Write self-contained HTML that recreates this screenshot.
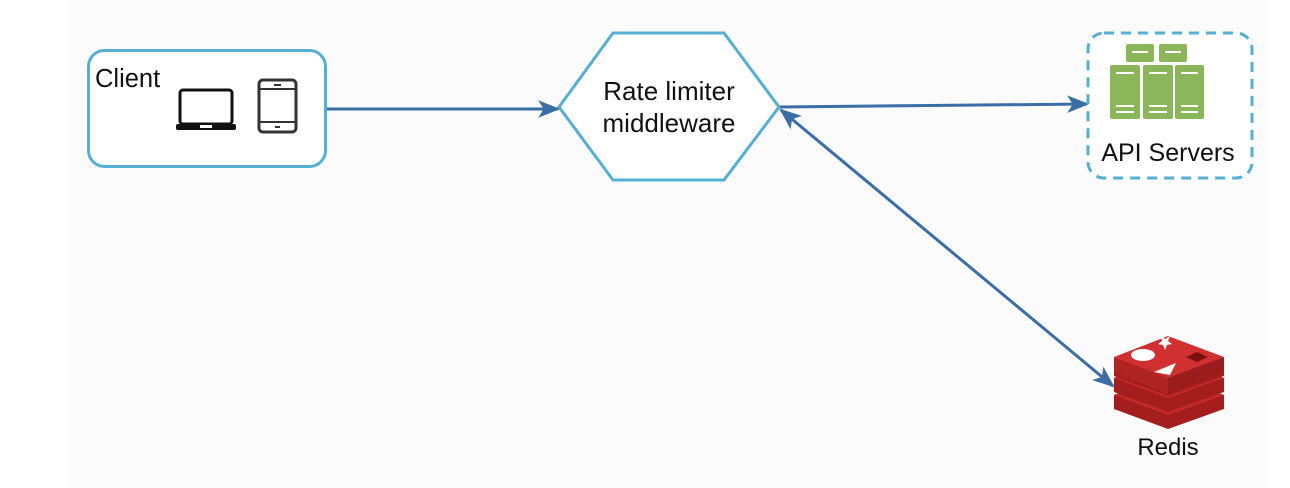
<!DOCTYPE html>
<html><head><style>
html,body{margin:0;padding:0;background:#fff;}
body{width:1290px;height:488px;position:relative;overflow:hidden;font-family:"Liberation Sans",Arial,sans-serif;}
</style></head><body>
<svg width="1290" height="488" viewBox="0 0 1290 488" style="position:absolute;left:0;top:0">
<defs>
<marker id="ah" viewBox="0 0 20 20" refX="18" refY="10" markerWidth="22" markerHeight="22" markerUnits="userSpaceOnUse" orient="auto-start-reverse">
<path d="M0,2 L20,10 L0,18 L5,10 Z" fill="#3a6ea5"/>
</marker>
</defs>
<rect x="68" y="0" width="1199" height="488" fill="#fbfbfb"/>
<!-- client -->
<rect x="88.5" y="50.5" width="237" height="116" rx="16" fill="#fff" stroke="#55aed3" stroke-width="3"/>
<text x="95" y="87" font-size="25.5" fill="#111">Client</text>
<!-- laptop -->
<rect x="180" y="90" width="52" height="34" rx="3" fill="none" stroke="#111" stroke-width="3"/>
<rect x="176" y="124" width="60" height="6" rx="2" fill="#111"/>
<rect x="200" y="125" width="12" height="3" fill="#fff"/>
<!-- phone -->
<rect x="259" y="80" width="37" height="52" rx="4" fill="none" stroke="#333" stroke-width="3"/>
<line x1="260" y1="89" x2="295" y2="89" stroke="#333" stroke-width="2"/>
<line x1="260" y1="122" x2="295" y2="122" stroke="#333" stroke-width="2"/>
<rect x="274" y="84" width="7" height="2" fill="#333"/>
<rect x="275" y="126" width="5" height="2" fill="#333"/>
<!-- hexagon -->
<polygon points="613,33 724,33 779,107 724,180 613,180 559,107" fill="#fff" stroke="#55aed3" stroke-width="3"/>
<text x="669" y="100" font-size="26" text-anchor="middle" fill="#111">Rate limiter</text>
<text x="669" y="132" font-size="26" text-anchor="middle" fill="#111">middleware</text>
<!-- arrows -->
<line x1="327" y1="109" x2="558" y2="109" stroke="#3a6ea5" stroke-width="3" marker-end="url(#ah)"/>
<line x1="780" y1="107" x2="1087" y2="104" stroke="#3a6ea5" stroke-width="3" marker-end="url(#ah)"/>
<line x1="781" y1="110" x2="1113" y2="386" stroke="#3a6ea5" stroke-width="3" marker-end="url(#ah)" marker-start="url(#ah)"/>
<!-- api servers -->
<rect x="1088" y="33" width="164" height="145" rx="16" fill="#fff" stroke="#55aed3" stroke-width="3" stroke-dasharray="10,7"/>
<g fill="#8cb65a">
<rect x="1126" y="44" width="28" height="18" rx="2"/>
<rect x="1159" y="44" width="28" height="18" rx="2"/>
<rect x="1110" y="65" width="30" height="54" rx="2"/>
<rect x="1143" y="65" width="30" height="54" rx="2"/>
<rect x="1175" y="65" width="29" height="54" rx="2"/>
</g>
<g stroke="#fff" stroke-width="2">
<line x1="1132" y1="52" x2="1148" y2="52"/><line x1="1165" y1="52" x2="1181" y2="52"/>
<line x1="1116" y1="73" x2="1134" y2="73"/><line x1="1149" y1="73" x2="1167" y2="73"/><line x1="1181" y1="73" x2="1198" y2="73"/>
<line x1="1116" y1="106" x2="1134" y2="106"/><line x1="1149" y1="106" x2="1167" y2="106"/><line x1="1181" y1="106" x2="1198" y2="106"/>
<line x1="1116" y1="112" x2="1134" y2="112"/><line x1="1149" y1="112" x2="1167" y2="112"/><line x1="1181" y1="112" x2="1198" y2="112"/>
</g>
<text x="1168" y="161" font-size="25" text-anchor="middle" fill="#111">API Servers</text>
<!-- redis -->
<g>
<path d="M1114,395 L1168,375 L1224,395 L1224,409 L1168,429 L1114,409 Z" fill="#a41e1e"/>
<path d="M1114,395 L1168,375 L1224,395 L1168,415 Z" fill="#c62828"/>
<path d="M1114,378 L1168,358 L1224,378 L1224,392 L1168,412 L1114,392 Z" fill="#a41e1e"/>
<path d="M1114,378 L1168,358 L1224,378 L1168,398 Z" fill="#c62828"/>
<path d="M1114,362 L1168,342 L1224,362 L1224,376 L1168,396 L1114,376 Z" fill="#a41e1e"/>
<path d="M1114,357 L1168,336 L1224,357 L1168,378 Z" fill="#d03030"/>
<path d="M1114,357 L1168,378 L1168,394 L1114,372 Z" fill="#b02424"/>
<path d="M1168,378 L1224,357 L1224,372 L1168,394 Z" fill="#9a1c1c"/>
<ellipse cx="1143" cy="355" rx="12" ry="6" fill="#fff"/>
<polygon points="1165,350 1167,345 1172,344 1168,341 1170,336 1165,339 1161,336 1162,341 1158,344 1163,345" fill="#fff"/>
<polygon points="1154,372 1176,363 1170,375" fill="#fff"/>
<polygon points="1186,357 1197,352 1208,357 1197,362" fill="#7a1010"/>
</g>
<text x="1168" y="455" font-size="24" text-anchor="middle" fill="#111">Redis</text>
</svg>
</body></html>
